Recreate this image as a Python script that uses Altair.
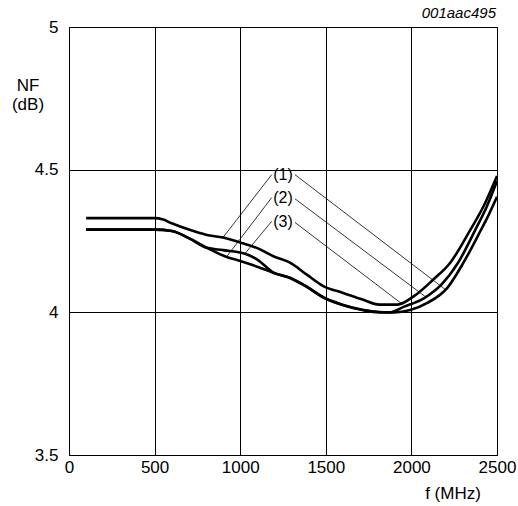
import altair as alt
import pandas as pd

# Curve A (starts at 4.33)
fa = [100, 500, 550, 600, 700, 800, 900, 1000, 1100, 1200, 1291, 1389, 1491, 1597, 1714, 1813, 1919, 2011, 2128, 2227, 2345, 2420, 2500]
na = [4.33, 4.33, 4.325, 4.312, 4.29, 4.272, 4.262, 4.245, 4.225, 4.195, 4.174, 4.132, 4.09, 4.069, 4.045, 4.027, 4.027, 4.055, 4.115, 4.174, 4.29, 4.37, 4.478]
# Curve B (middle on the left)
fb = [100, 500, 600, 700, 806, 900, 1028, 1100, 1192, 1291, 1389, 1491, 1597, 1714, 1813, 1870, 1958, 2075, 2175, 2273, 2374, 2440, 2500]
nb = [4.29, 4.29, 4.285, 4.26, 4.226, 4.218, 4.205, 4.185, 4.14, 4.121, 4.09, 4.051, 4.027, 4.009, 4.001, 4.0, 4.02, 4.05, 4.097, 4.174, 4.29, 4.37, 4.46]
# Curve C (lowest on the left)
fc = [100, 500, 600, 700, 806, 917, 1000, 1100, 1192, 1291, 1389, 1491, 1597, 1714, 1813, 1900, 1993, 2093, 2210, 2304, 2403, 2450, 2500]
nc = [4.29, 4.29, 4.285, 4.26, 4.226, 4.195, 4.18, 4.16, 4.139, 4.12, 4.089, 4.05, 4.026, 4.008, 4.0, 4.0, 4.008, 4.033, 4.086, 4.174, 4.285, 4.34, 4.405]

# leader lines (label end -> curve end)
lead_f1 = [1184, 1320, 1184, 1320, 1184, 1320]
lead_n1 = [4.4825, 4.4825, 4.402, 4.398, 4.319, 4.315]
lead_f2 = [899, 2198, 921, 2081, 1028, 1944]
lead_n2 = [4.262, 4.08, 4.195, 4.055, 4.206, 4.030]

labels = ["(1)", "(2)", "(3)"]
label_f = [1250, 1250, 1250]
label_n = [4.482, 4.400, 4.317]

x_ticks = [0, 500, 1000, 1500, 2000, 2500]
y_ticks = [3.5, 4, 4.5, 5]

rows = []
for name, fs, ns in (("A", fa, na), ("B", fb, nb), ("C", fc, nc)):
    for f, n in zip(fs, ns):
        rows.append({"series": name, "f": f, "nf": n})
curves = pd.DataFrame(rows)
leaders = pd.DataFrame({"f1": lead_f1, "n1": lead_n1, "f2": lead_f2, "n2": lead_n2})
lab = pd.DataFrame({"label": labels, "f": label_f, "nf": label_n})

FONT = "Liberation Sans"

xscale = alt.Scale(domain=[0, 2500], nice=False)
yscale = alt.Scale(domain=[3.5, 5], nice=False, zero=False)

xaxis = alt.Axis(values=x_ticks, title=None, grid=True, gridColor="black", gridOpacity=1,
                 gridWidth=1, domainColor="black", ticks=False, labelPadding=4,
                 labelFontSize=17, labelFont=FONT, labelColor="black", labelFlush=False,
                 labelExpr="'' + datum.value")
yaxis = alt.Axis(values=y_ticks, title=None, grid=True, gridColor="black", gridOpacity=1,
                 gridWidth=1, domainColor="black", ticks=False, labelPadding=11,
                 labelFontSize=17, labelFont=FONT, labelColor="black", labelFlush=False,
                 labelExpr="'' + datum.value")

lines = alt.Chart(curves).mark_line(color="black", strokeWidth=2.6, interpolate="monotone").encode(
    x=alt.X("f:Q", scale=xscale, axis=xaxis),
    y=alt.Y("nf:Q", scale=yscale, axis=yaxis),
    detail="series:N",
    order="f:Q",
)

rules = alt.Chart(leaders).mark_rule(color="black", strokeWidth=0.8).encode(
    x=alt.X("f1:Q", scale=xscale), y=alt.Y("n1:Q", scale=yscale),
    x2="f2:Q", y2="n2:Q",
)

texts = alt.Chart(lab).mark_text(font=FONT, fontSize=16, color="black", baseline="middle", align="center").encode(
    x=alt.X("f:Q", scale=xscale), y=alt.Y("nf:Q", scale=yscale), text="label:N"
)

def label_text(s, px, py, size=17, style="normal", align="center"):
    return alt.Chart(pd.DataFrame({"t": [s]})).mark_text(
        font=FONT, fontSize=size, fontStyle=style, color="black", align=align, baseline="middle"
    ).encode(x=alt.value(px), y=alt.value(py), text="t:N")

t_nf = label_text("NF", -41, 59)
t_db = label_text("(dB)", -41, 78)
t_f = label_text("f (MHz)", 384, 467)
t_id = label_text("001aac495", 427, -14, size=15, style="italic", align="right")

chart = alt.layer(lines, rules, texts, t_nf, t_db, t_f, t_id).properties(
    width=428, height=428,
    autosize=alt.AutoSizeParams(type="none"),
    padding={"left": 69, "top": 27, "right": 21, "bottom": 51},
    background="white",
).configure_view(stroke="black", strokeWidth=1)

chart.save("out.html", embed_options={"renderer": "svg", "actions": False})
